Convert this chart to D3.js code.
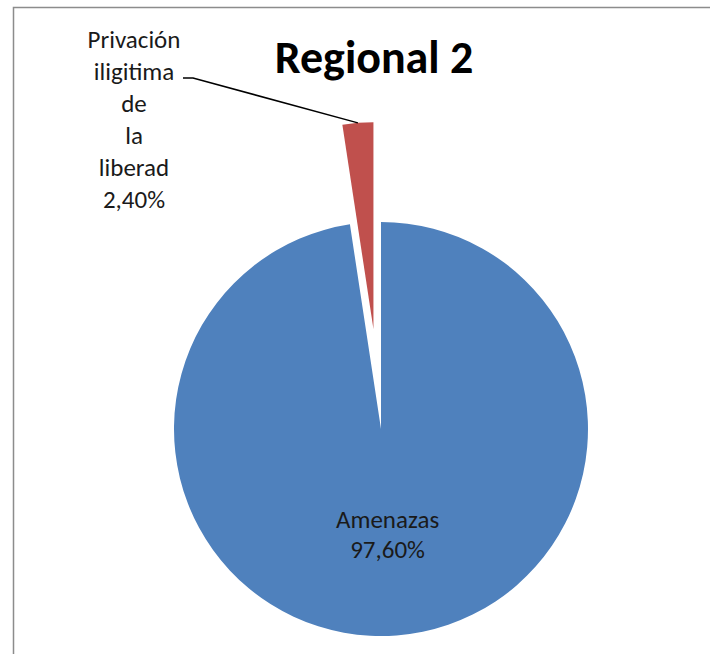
<!DOCTYPE html>
<html>
<head>
<meta charset="utf-8">
<script src="https://cdn.jsdelivr.net/npm/d3@7"></script>
<style>
  body { margin: 0; background: #fff; }
  text { font-family: Carlito, "Liberation Sans", Arial, sans-serif; }
</style>
</head>
<body>
<div id="chart"></div>
<script>
// data
var categories = ["Amenazas", "Privación iligitima de la liberad"];
var values = [97.6, 2.4];
var labelLines = [["Amenazas", "97,60%"], ["Privación", "iligitima", "de", "la", "liberad", "2,40%"]];
var colors = ["#4F81BD", "#C0504D"];
var title = "Regional 2";

var width = 710, height = 654;
var cx = 381, cy = 429, radius = 207;
var explode = [0, 100];

var svg = d3.select("#chart").append("svg")
	.attr("width", width).attr("height", height);

// chart area frame (only top and left edge fall inside the window)
svg.append("rect")
	.attr("x", 13.5).attr("y", 7.5)
	.attr("width", 900).attr("height", 900)
	.attr("fill", "#fff")
	.attr("stroke", "#8c8c8c").attr("stroke-width", 1.5);

svg.append("text")
	.attr("x", 374).attr("y", 73)
	.attr("text-anchor", "middle")
	.style("font-size", "46px").style("font-weight", "bold")
	.text(title);

var pie = d3.pie().sort(null).value(function(d) { return d; });
var arcs = pie(values);
var arc = d3.arc().innerRadius(0).outerRadius(radius);
var labelArc = d3.arc().innerRadius(radius * 0.55).outerRadius(radius * 0.55);

function offset(d, i) {
	var a = (d.startAngle + d.endAngle) / 2;
	return [Math.sin(a) * explode[i], -Math.cos(a) * explode[i]];
}

var g = svg.append("g").attr("transform", "translate(" + cx + "," + cy + ")");

g.selectAll("path").data(arcs).enter().append("path")
	.attr("d", arc)
	.attr("fill", function(d, i) { return colors[i]; })
	.attr("transform", function(d, i) {
		var o = offset(d, i);
		return "translate(" + o[0] + "," + o[1] + ")";
	});

// label inside the big slice
var c0 = labelArc.centroid(arcs[0]);
var t0 = g.append("text")
	.attr("text-anchor", "middle")
	.style("font-size", "25px").attr("fill", "#1a1a1a");
labelLines[0].forEach(function(s, k) {
	t0.append("tspan").attr("x", c0[0] - 2).attr("y", c0[1] - 15 + k * 30).text(s);
});

// small slice: label pulled out to the left with a leader line
var a1 = (arcs[1].startAngle + arcs[1].endAngle) / 2;
var reach = radius + explode[1];
var tip = [cx + Math.sin(a1) * reach, cy - Math.cos(a1) * reach];

svg.append("polyline")
	.attr("points", [[183, 78], [193, 78], tip].map(function(p) { return p.join(","); }).join(" "))
	.attr("fill", "none").attr("stroke", "#000").attr("stroke-width", 1.5);

var t1 = svg.append("text")
	.attr("text-anchor", "middle")
	.style("font-size", "25px").attr("fill", "#1a1a1a");
labelLines[1].forEach(function(s, k) {
	t1.append("tspan").attr("x", 134).attr("y", 48 + k * 32).text(s);
});
</script>
</body>
</html>
